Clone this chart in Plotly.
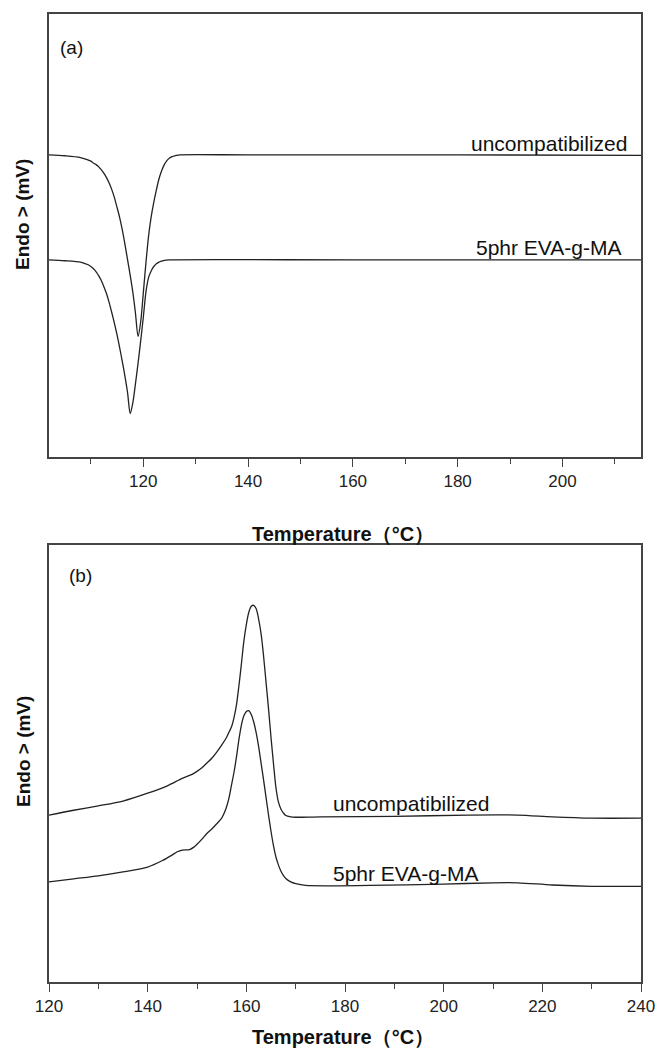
import plotly.graph_objects as go

W, H = 656, 1050

# ---------------- Panel (a) data ----------------
a_uncomp_T = [102, 105, 108, 110, 110.5, 111, 111.5, 112, 112.5, 113, 113.5, 114, 114.5, 115, 115.5,
              116, 116.5, 117, 117.5, 118, 118.5, 119, 119.5, 120, 120.5, 121, 121.5, 122, 122.5,
              123, 123.5, 124, 124.5, 125, 125.5, 126, 126.5, 127, 140, 180, 215]
a_uncomp_V = [6.82, 6.80, 6.76, 6.68, 6.63, 6.60, 6.55, 6.48, 6.40, 6.30, 6.18, 6.03, 5.85, 5.63, 5.40,
              5.12, 4.80, 4.45, 4.10, 3.72, 3.25, 2.72, 3.05, 3.70, 4.38, 4.98, 5.42, 5.75, 6.03,
              6.28, 6.46, 6.60, 6.69, 6.75, 6.78, 6.80, 6.81, 6.82, 6.82, 6.82, 6.81]

a_comp_T = [102, 105, 108, 108.5, 109, 109.5, 110, 110.5, 111, 111.5, 112, 112.5, 113, 113.5, 114,
            114.5, 115, 115.5, 116, 116.5, 117, 117.5, 118, 118.5, 119, 119.5, 120, 120.5, 121,
            121.5, 122, 122.5, 123, 123.5, 124, 125, 160, 215]
a_comp_V = [4.45, 4.43, 4.40, 4.38, 4.36, 4.34, 4.30, 4.25, 4.18, 4.09, 3.98, 3.84, 3.68, 3.48, 3.25,
            3.01, 2.75, 2.46, 2.15, 1.82, 1.45, 0.98, 1.22, 1.65, 2.12, 2.62, 3.15, 3.72, 4.05,
            4.20, 4.30, 4.36, 4.40, 4.42, 4.44, 4.45, 4.45, 4.45]

# ---------------- Panel (b) data ----------------
b_uncomp_T = [120, 125, 130, 135, 140, 144, 147, 149, 150, 151, 152, 153, 154, 155, 156, 156.5, 157,
              157.5, 158, 158.5, 159, 159.5, 160, 160.5, 161, 161.5, 162, 162.5, 163, 163.5, 164,
              164.5, 165, 165.5, 166, 166.5, 167, 167.5, 168, 169, 170, 175, 190, 205, 215, 222,
              230, 240]
b_uncomp_V = [3.82, 3.93, 4.03, 4.14, 4.32, 4.49, 4.66, 4.75, 4.82, 4.90, 5.01, 5.12, 5.26, 5.42, 5.60,
              5.72, 5.84, 6.05, 6.34, 6.78, 7.28, 7.80, 8.18, 8.46, 8.60, 8.62, 8.54, 8.30, 7.96,
              7.45, 6.85, 6.25, 5.60, 5.00, 4.45, 4.12, 3.96, 3.87, 3.81, 3.78, 3.77, 3.78, 3.79,
              3.82, 3.82, 3.78, 3.75, 3.75]

b_comp_T = [120, 125, 130, 135, 140, 143, 145, 146, 147, 148.5, 149.3, 150, 151, 152, 153, 154, 155,
            155.5, 156, 156.5, 157, 157.5, 158, 158.5, 159, 159.5, 160, 160.5, 161, 161.5, 162,
            162.5, 163, 163.5, 164, 164.5, 165, 165.5, 166, 166.5, 167, 167.5, 168, 169, 170,
            172, 185, 200, 210, 215, 222, 230, 240]
b_comp_V = [2.29, 2.36, 2.43, 2.52, 2.63, 2.78, 2.91, 2.98, 3.02, 3.03, 3.08, 3.15, 3.27, 3.40, 3.50,
            3.62, 3.75, 3.86, 4.01, 4.22, 4.51, 4.80, 5.15, 5.55, 5.88, 6.09, 6.19, 6.21, 6.12,
            5.95, 5.70, 5.38, 5.00, 4.62, 4.22, 3.82, 3.45, 3.12, 2.86, 2.68, 2.54, 2.44, 2.37,
            2.29, 2.25, 2.21, 2.21, 2.24, 2.27, 2.27, 2.22, 2.19, 2.19]

a_xticks = [120, 140, 160, 180, 200]
b_xticks = [120, 140, 160, 180, 200, 220, 240]

label_uncomp = "uncompatibilized"
label_comp = "5phr EVA-g-MA"
x_title = "Temperature（°C）"
y_title = "Endo > (mV)"

LINE = dict(color="#222222", width=1.3)
FRAME = "#444444"
FONT = "Liberation Sans, Arial, sans-serif"

fig = go.Figure()
for xs, ys, xa, ya in [(a_uncomp_T, a_uncomp_V, "x", "y"), (a_comp_T, a_comp_V, "x", "y"),
                       (b_uncomp_T, b_uncomp_V, "x2", "y2"), (b_comp_T, b_comp_V, "x2", "y2")]:
    fig.add_trace(go.Scatter(x=xs, y=ys, mode="lines", line=dict(**LINE, shape="spline", smoothing=0.8),
                             xaxis=xa, yaxis=ya, showlegend=False, hoverinfo="skip"))

def px(x):
    return x / W

def py(y):
    return 1 - y / H

common_x = dict(showline=True, linecolor=FRAME, linewidth=1.5, mirror=True, showgrid=False, zeroline=False,
                automargin=False,
                ticks="outside", ticklen=8, tickwidth=1.3, tickcolor=FRAME,
                tickfont=dict(family=FONT, size=17, color="#222222"),
                minor=dict(ticks="outside", ticklen=5, tickwidth=1.3, tickcolor=FRAME, dtick=10, showgrid=False))
common_y = dict(showline=True, linecolor=FRAME, linewidth=1.5, mirror=True, showgrid=False, zeroline=False,
                automargin=False, showticklabels=False, ticks="", range=[0, 10])

fig.update_layout(
    template="none",
    width=W, height=H, margin=dict(l=0, r=0, t=0, b=0, pad=0, autoexpand=False),
    paper_bgcolor="white", plot_bgcolor="white",
    xaxis=dict(domain=[px(49), px(641)], range=[102, 215], anchor="y", tickvals=a_xticks, **common_x),
    yaxis=dict(domain=[py(457), py(14)], anchor="x", **common_y),
    xaxis2=dict(domain=[px(49), px(641)], range=[120, 240], anchor="y2", tickvals=b_xticks, **common_x),
    yaxis2=dict(domain=[py(982), py(545)], anchor="x2", **common_y),
)

anns = [
    dict(text="(a)", x=px(58), y=py(47), xanchor="left", size=19),
    dict(text="(b)", x=px(67), y=py(575), xanchor="left", size=19),
    dict(text=label_uncomp, x=px(629), y=py(144), xanchor="right", size=21),
    dict(text=label_comp, x=px(624), y=py(248), xanchor="right", size=21),
    dict(text=label_uncomp, x=px(331), y=py(803), xanchor="left", size=21),
    dict(text=label_comp, x=px(331), y=py(873), xanchor="left", size=21),
    dict(text="<b>" + x_title + "</b>", x=px(343), y=py(534), xanchor="center", size=20),
    dict(text="<b>" + x_title + "</b>", x=px(343), y=py(1037), xanchor="center", size=20),
]
for a in anns:
    fig.add_annotation(text=a["text"], x=a["x"], y=a["y"], xref="paper", yref="paper",
                       xanchor=a["xanchor"], yanchor="middle", showarrow=False,
                       font=dict(family=FONT, size=a["size"], color="#111111"))
for yc in (215, 752):
    fig.add_annotation(text="<b>" + y_title + "</b>", x=px(23), y=py(yc), xref="paper", yref="paper",
                       xanchor="center", yanchor="middle", showarrow=False, textangle=-90,
                       font=dict(family=FONT, size=19, color="#111111"))

fig.write_html("out.html", config={"displayModeBar": False},
               post_script="document.body.style.margin='0';document.body.style.overflow='hidden';")
